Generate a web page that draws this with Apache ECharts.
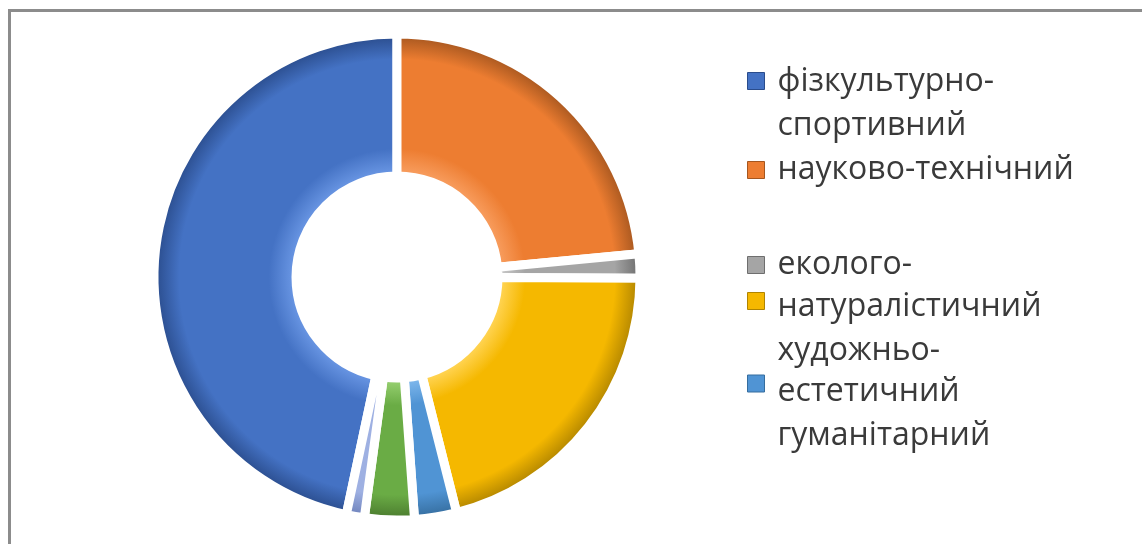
<!DOCTYPE html>
<html><head><meta charset="utf-8">
<script src="https://cdn.jsdelivr.net/npm/echarts@6/dist/echarts.min.js"></script>
<style>html,body{margin:0;padding:0;background:#fff}#c{width:1142px;height:544px}</style>
</head><body><div id="c"></div>
<script>
// ---- data ----
const categories = ['фізкультурно-спортивний','науково-технічний','еколого-натуралістичний','художньо-естетичний','гуманітарний','туристсько-краєзнавчий','інші'];
const values = [46.7, 23.5, 1.6, 21.0, 2.8, 3.3, 1.2];
const legendNames = ['фізкультурно-спортивний','науково-технічний','еколого-натуралістичний','художньо-естетичний','гуманітарний'];
const legendLines = [['фізкультурно-','спортивний'],['науково-технічний'],['еколого-'],['натуралістичний','художньо-'],['естетичний','гуманітарний']];

// ---- style ----
const baseColors = ['#4472c4','#ed7d31','#a5a5a5','#f5b800','#5094d4','#6aac45','#9eb0e2'];
const lightColors = ['#6592e0','#f79a5a','#c4c4c4','#ffd24d','#7ab4ea','#92cc6c','#c0cdf0'];
const rimColors = ['#2a4c8c','#a5561f','#6e6e6e','#b08400','#356d9e','#4a7a2e','#6e82bb'];
const markerY = [88, 176, 271, 313, 398];
const leadH = [46, 0, 0, 56, 61];
const LH = 44, FS = 32, FONT = 'Open Sans';
const CX = 397, CY = 277;

const total = values.reduce((a,b)=>a+b,0);
const startAngle = 90 + 360 * values[0] / total;

const back = categories.map((n,i)=>({name:n, value:values[i], itemStyle:{color:rimColors[i]}}));
const front = categories.map((n,i)=>({name:n, value:values[i], itemStyle:{color:{
  type:'radial', x:CX, y:CY, r:242, global:true,
  colorStops:[{offset:0,color:lightColors[i]},{offset:0.44,color:lightColors[i]},{offset:0.53,color:baseColors[i]},{offset:0.9,color:baseColors[i]},{offset:1,color:rimColors[i]}]
}}}));

const legends = legendNames.map((n,i)=>{
  const lines = legendLines[i];
  let text, H;
  if (lines.length > 1) {
    text = '{s| }\n' + lines.map(l=>'{t|'+l+'}').join('\n');
    H = leadH[i] + LH * lines.length;
  } else {
    text = '{t|'+lines[0]+'}';
    H = LH;
  }
  return {
    orient:'vertical', left:747, top: markerY[i] - H/2, padding:0,
    itemWidth:17, itemHeight:17, selectedMode:false,
    icon:'rect',
    data:[{name:n, itemStyle:{color:baseColors[i], borderColor:rimColors[i], borderWidth:1}}],
    formatter: ()=>text,
    textStyle:{
      padding:[0,0,0,8],
      rich:{
        s:{lineHeight:leadH[i]||1, fontSize:FS, fontFamily:FONT},
        t:{lineHeight:LH, fontSize:FS, fontFamily:FONT, color:'#3a3a3a'}
      }
    }
  };
});

const chart = echarts.init(document.getElementById('c'));
chart.setOption({
  animation:false,
  backgroundColor:'#fff',
  legend: legends,
  graphic:[{type:'rect', shape:{x:9.5,y:10.5,width:1400,height:800}, style:{fill:'none', stroke:'#8c8c8c', lineWidth:3}, silent:true}],
  series:[
    {type:'pie', center:[CX,CY], radius:[100,244], startAngle, clockwise:true, label:{show:false}, labelLine:{show:false},
     itemStyle:{borderColor:'#fff', borderWidth:6}, emphasis:{disabled:true}, data:back},
    {type:'pie', center:[CX,CY], radius:[101,243], startAngle, clockwise:true, label:{show:false}, labelLine:{show:false},
     itemStyle:{borderColor:'#fff', borderWidth:9}, emphasis:{disabled:true}, data:front}
  ]
});
</script></body></html>
